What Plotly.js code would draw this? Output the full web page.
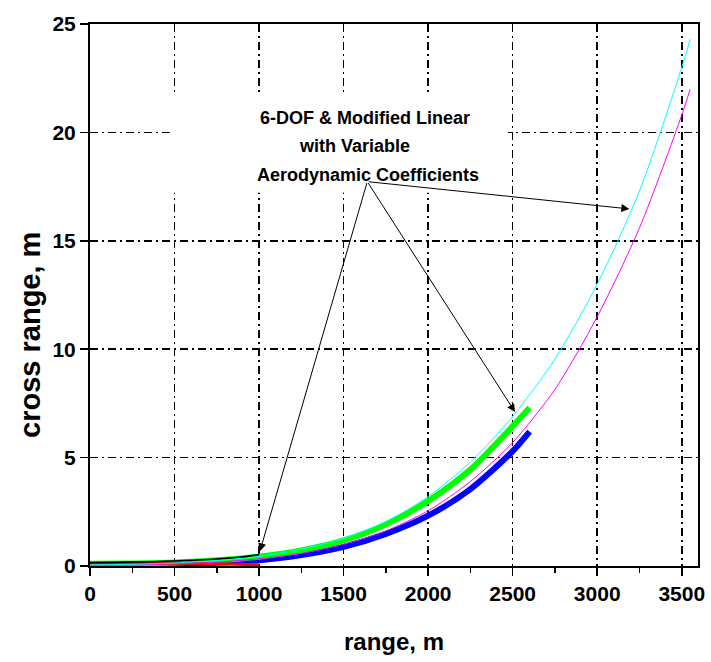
<!DOCTYPE html>
<html>
<head>
<meta charset="utf-8">
<script src="https://cdn.plot.ly/plotly-3.0.1.min.js"></script>
<style>html,body{margin:0;padding:0;background:#fff;}#chart{width:711px;height:662px;}</style>
</head>
<body>
<div id="chart"></div>
<script>
// ---- data ----
const xLong = [0,250,500,750,1000,1250,1500,1750,2000,2250,2500,2750,3000,3250,3500,3550];
const cyanY = [0.05,0.08,0.14,0.25,0.45,0.78,1.28,2.05,3.2,4.8,6.9,9.55,13.0,17.3,23.0,24.3];
const magentaY = [0.03,0.05,0.1,0.18,0.33,0.58,1.0,1.62,2.55,3.9,5.7,8.15,11.5,15.6,20.8,22.0];

const xShort = [0,250,500,750,1000,1250,1500,1750,2000,2250,2500,2600];
const greenY = [0.1,0.12,0.16,0.26,0.43,0.72,1.18,1.92,3.0,4.45,6.45,7.3];
const blueY = [0.04,0.05,0.08,0.15,0.27,0.5,0.88,1.48,2.32,3.55,5.3,6.2];

const xStart = [0,125,250,375,500,625,750,875,1000];
const blackY = [0.15,0.16,0.18,0.2,0.23,0.27,0.32,0.4,0.52];
const redX = [0,250,500,750,1000];
const redY = [0.14,0.14,0.13,0.1,0.05];

const xTicks = [0,500,1000,1500,2000,2500,3000,3500];
const yTicks = [0,5,10,15,20,25];

const xTitle = "range, m";
const yTitle = "cross range, m";
const noteLines = ["6-DOF & Modified Linear", "with Variable", "Aerodynamic Coefficients"];
const noteX = [993, 1223, 975];
const noteY = [20.66, 19.35, 18.03];
const arrowTail = [1640, 17.73];
const arrowTipX = [1005, 2514, 3190];
const arrowTipY = [0.68, 7.1, 16.47];

const traces = [
  {x: xShort, y: blueY, mode:'lines', line:{color:'#0000ff', width:6, shape:'spline', smoothing:0.8}},
  {x: xShort, y: greenY, mode:'lines', line:{color:'#00ff00', width:6, shape:'spline', smoothing:0.8}},
  {x: redX, y: redY, mode:'lines', line:{color:'#ff0000', width:3, shape:'spline', smoothing:0.8}},
  {x: xLong, y: magentaY, mode:'lines', line:{color:'#ff00ff', width:1, shape:'spline', smoothing:0.8}},
  {x: xLong, y: cyanY, mode:'lines', line:{color:'#00ffff', width:1, shape:'spline', smoothing:0.8}},
  {x: xStart, y: blackY, mode:'lines', line:{color:'#000000', width:1.5, shape:'spline', smoothing:0.8}}
];

const FONT = 'Liberation Sans, Arial, sans-serif';
const annotations = [];
for (let i = 0; i < noteLines.length; i++) {
  annotations.push({x: noteX[i], y: noteY[i], xref:'x', yref:'y', text: '<b>' + noteLines[i] + '</b>', showarrow:false,
    xanchor:'left', yanchor:'middle', font:{family:FONT, size:18, color:'#000'}});
}
for (let i = 0; i < arrowTipX.length; i++) {
  annotations.push({x: arrowTipX[i], y: arrowTipY[i], xref:'x', yref:'y', ax: arrowTail[0], ay: arrowTail[1],
    axref:'x', ayref:'y', text:'', showarrow:true, arrowhead:2, arrowsize:1.6, arrowwidth:1, arrowcolor:'#000', standoff:0});
}
annotations.push({x:-0.099, y:0.426, xref:'paper', yref:'paper', text:'<b>' + yTitle + '</b>', textangle:-90,
  showarrow:false, xanchor:'center', yanchor:'middle', font:{family:FONT, size:29, color:'#000'}});

const layout = {
  width:711, height:662,
  margin:{l:90, r:13, t:24, b:96},
  paper_bgcolor:'#fff', plot_bgcolor:'#fff',
  showlegend:false,
  font:{family:FONT, color:'#000'},
  xaxis:{
    range:[0,3596], tickvals:xTicks, ticktext:xTicks.map(String),
    ticks:'outside', ticklen:8, tickwidth:1.5, tickcolor:'#000',
    minor:{dtick:250, ticks:'outside', ticklen:5, tickwidth:1.5, tickcolor:'#000', showgrid:false},
    showline:true, linewidth:2, linecolor:'#000', mirror:true,
    showgrid:true, gridcolor:'#000', gridwidth:1.5, griddash:'8px,4px,2px,4px',
    zeroline:false,
    tickfont:{size:21, family:FONT, weight:'bold'},
    title:{text:'<b>' + xTitle + '</b>', font:{size:24}, standoff:29}
  },
  yaxis:{
    range:[0,25], tickvals:yTicks, ticktext:yTicks.map(String),
    ticks:'outside', ticklen:8, tickwidth:1.5, tickcolor:'#000',
    showline:true, linewidth:2, linecolor:'#000', mirror:true,
    showgrid:true, gridcolor:'#000', gridwidth:1.5, griddash:'8px,4px,2px,4px',
    zeroline:false,
    tickfont:{size:21, family:FONT, weight:'bold'}
  },
  shapes:[
    {type:'rect', xref:'x', yref:'y', x0:472, x1:2472, y0:17.22, y1:21.85, fillcolor:'#fff', line:{width:0}, layer:'above'}
  ],
  annotations: annotations
};

Plotly.newPlot('chart', traces, layout, {staticPlot:true, displayModeBar:false});
</script>
</body>
</html>
